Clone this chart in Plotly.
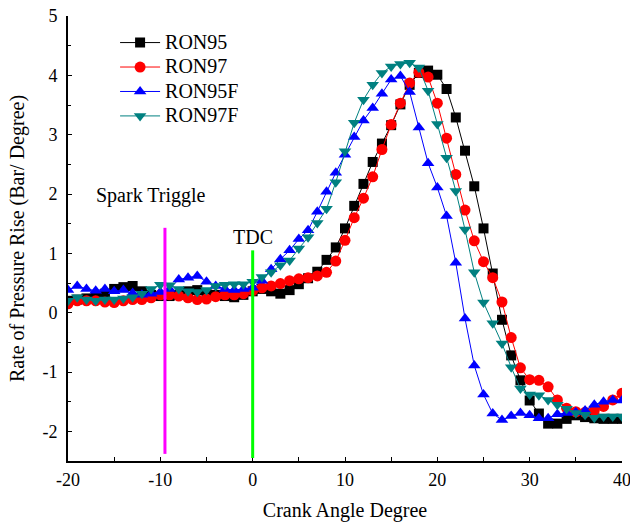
import plotly.graph_objects as go

crank_angle = list(range(-20, 41))

ron95 = [0.20, 0.22, 0.24, 0.26, 0.32, 0.40, 0.43, 0.45, 0.36, 0.30,
         0.28, 0.28, 0.30, 0.36, 0.38, 0.33, 0.30, 0.28, 0.26, 0.30,
         0.36, 0.40, 0.36, 0.32, 0.38, 0.48, 0.58, 0.69, 0.89, 1.10,
         1.42, 1.80, 2.17, 2.54, 2.85, 3.16, 3.51, 3.84, 4.04, 4.08,
         4.01, 3.77, 3.29, 2.73, 2.13, 1.42, 0.66, -0.12, -0.72, -1.14,
         -1.48, -1.70, -1.87, -1.87, -1.79, -1.73, -1.76, -1.78, -1.79, -1.79,
         -1.79]

ron97 = [0.15, 0.20, 0.20, 0.20, 0.18, 0.17, 0.20, 0.22, 0.22, 0.25,
         0.30, 0.30, 0.28, 0.25, 0.22, 0.23, 0.27, 0.30, 0.30, 0.32,
         0.37, 0.42, 0.45, 0.49, 0.54, 0.57, 0.59, 0.62, 0.68, 0.87,
         1.22, 1.60, 1.93, 2.29, 2.75, 3.17, 3.53, 3.87, 4.05, 3.97,
         3.53, 2.94, 2.33, 1.73, 1.21, 0.86, 0.59, 0.18, -0.42, -0.93,
         -1.13, -1.14, -1.25, -1.47, -1.61, -1.67, -1.68, -1.65, -1.58, -1.47,
         -1.36]

ron95f = [0.38, 0.45, 0.40, 0.37, 0.40, 0.36, 0.38, 0.33, 0.30, 0.32,
          0.35, 0.40, 0.56, 0.59, 0.62, 0.52, 0.45, 0.40, 0.38, 0.40,
          0.42, 0.54, 0.73, 0.90, 1.05, 1.24, 1.39, 1.70, 2.04, 2.36,
          2.66, 2.96, 3.24, 3.45, 3.69, 3.93, 3.99, 3.72, 3.12, 2.52,
          2.11, 1.63, 0.84, -0.10, -0.89, -1.38, -1.70, -1.81, -1.74, -1.69,
          -1.73, -1.78, -1.78, -1.71, -1.69, -1.68, -1.65, -1.55, -1.50, -1.47,
          -1.48]

ron97f = [0.20, 0.26, 0.22, 0.20, 0.22, 0.22, 0.24, 0.26, 0.32, 0.40,
          0.47, 0.46, 0.40, 0.36, 0.35, 0.38, 0.45, 0.47, 0.48, 0.48,
          0.52, 0.60, 0.68, 0.80, 0.88, 1.08, 1.27, 1.51, 1.75, 2.20,
          2.72, 3.20, 3.59, 3.84, 4.04, 4.15, 4.19, 4.21, 4.13, 3.74,
          3.18, 2.61, 2.05, 1.40, 0.68, 0.17, -0.18, -0.52, -0.92, -1.28,
          -1.38, -1.39, -1.47, -1.55, -1.62, -1.69, -1.72, -1.77, -1.75, -1.75,
          -1.75]

series_names = ["RON95", "RON97", "RON95F", "RON97F"]
series_values = [ron95, ron97, ron95f, ron97f]
series_colors = ["#000000", "#FF0000", "#0000FF", "#008080"]
series_symbols = ["square", "circle", "triangle-up", "triangle-down"]
series_sizes = [10, 11, 11, 11]

x_tickvals = [-20, -10, 0, 10, 20, 30, 40]
x_ticktext = ["-20", "-10", "0", "10", "20", "30", "40"]
y_tickvals = [-2, -1, 0, 1, 2, 3, 4, 5]
y_ticktext = ["-2", "-1", "0", "1", "2", "3", "4", "5"]

spark_angle = -9.5
tdc_angle = 0

FONT = "Liberation Serif"

fig = go.Figure()
for name, vals, col, sym, sz in zip(series_names, series_values, series_colors,
                                    series_symbols, series_sizes):
    fig.add_trace(go.Scatter(
        x=crank_angle, y=vals,
        name='<span style="font-size:20px">' + name + '</span>',
        mode="lines+markers",
        line=dict(color=col, width=1),
        marker=dict(symbol=sym, size=sz, color=col, line=dict(width=0)),
    ))

fig.add_shape(type="line", xref="x", yref="y", x0=spark_angle, x1=spark_angle,
              y0=-2.38, y1=1.43, line=dict(color="#FF00FF", width=3), layer="above")
fig.add_shape(type="line", xref="x", yref="y", x0=tdc_angle, x1=tdc_angle,
              y0=-2.45, y1=1.05, line=dict(color="#00FF00", width=3), layer="above")

fig.add_annotation(x=-11, y=1.97, xref="x", yref="y", text="Spark Triggle",
                   showarrow=False, font=dict(family=FONT, size=20, color="black"))
fig.add_annotation(x=0, y=1.28, xref="x", yref="y", text="TDC",
                   showarrow=False, font=dict(family=FONT, size=20, color="black"))

fig.update_layout(
    width=630, height=526,
    margin=dict(l=68, r=8, t=16, b=65, autoexpand=False),
    paper_bgcolor="white", plot_bgcolor="white",
    font=dict(family=FONT, size=18, color="black"),
    showlegend=True,
    legend=dict(x=0.085, y=0.979, xanchor="left", yanchor="top",
                bgcolor="rgba(0,0,0,0)", font=dict(family=FONT, size=16.5),
                tracegroupgap=0, itemwidth=40),
    xaxis=dict(range=[-20, 40], tickvals=x_tickvals, ticktext=x_ticktext,
               showgrid=False, zeroline=False, automargin=False,
               ticklabeloverflow="allow",
               showline=True, linecolor="black", linewidth=2,
               ticks="inside", ticklen=4, tickcolor="black", ticklabelstandoff=1,
               minor=dict(dtick=5, ticks="inside", ticklen=4, tickcolor="black"),
               title=dict(text="Crank Angle Degree", font=dict(family=FONT, size=20),
                          standoff=14),
               tickfont=dict(family=FONT, size=18)),
    yaxis=dict(range=[-2.5, 5], tickvals=y_tickvals, ticktext=y_ticktext,
               showgrid=False, zeroline=False, automargin=False,
               ticklabeloverflow="allow",
               showline=True, linecolor="black", linewidth=2,
               ticks="inside", ticklen=4, tickcolor="black", ticklabelstandoff=5,
               minor=dict(dtick=0.5, ticks="inside", ticklen=3, tickcolor="black"),
               title=dict(text="Rate of Pressure Rise (Bar/ Degree)",
                          font=dict(family=FONT, size=20), standoff=12),
               tickfont=dict(family=FONT, size=18)),
)

# remove the page's default body margin so the 630x526 figure fills the window
fig.write_html("out.html",
               config={"displayModeBar": False},
               post_script="document.body.style.margin='0';document.body.style.overflow='hidden';")
